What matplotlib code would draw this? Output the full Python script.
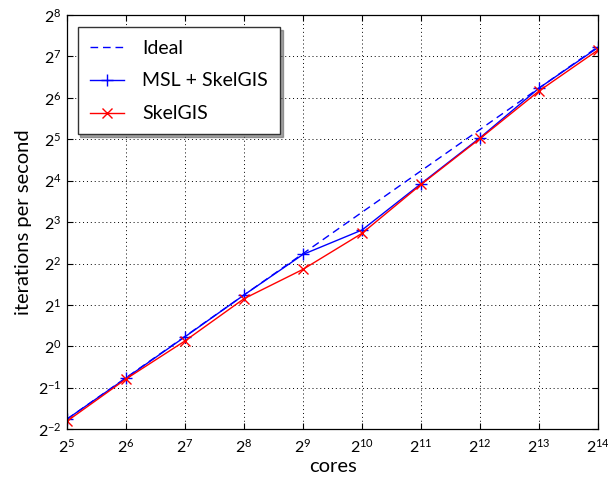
import math
import matplotlib
matplotlib.use("Agg")
import matplotlib.pyplot as plt
from matplotlib.ticker import FixedLocator, FuncFormatter

plt.rcParams['font.family'] = ['Lato', 'DejaVu Sans']
plt.rcParams['mathtext.fontset'] = 'custom'
plt.rcParams['mathtext.rm'] = 'Lato'
plt.rcParams['mathtext.default'] = 'regular'

# data (exponents of 2)
core_exp = [5, 6, 7, 8, 9, 10, 11, 12, 13, 14]
ideal_exp = [-1.76, -0.76, 0.24, 1.24, 2.24, 3.24, 4.24, 5.24, 6.24, 7.24]
msl_exp = [-1.76, -0.77, 0.23, 1.24, 2.22, 2.81, 3.93, 5.04, 6.24, 7.22]
skel_exp = [-1.81, -0.79, 0.13, 1.15, 1.86, 2.73, 3.91, 5.02, 6.17, 7.16]

cores = [2.0 ** e for e in core_exp]
ideal = [2.0 ** e for e in ideal_exp]
msl = [2.0 ** e for e in msl_exp]
skel = [2.0 ** e for e in skel_exp]

x_ticks_exp = list(range(5, 15))
y_ticks_exp = list(range(-2, 9))

fig = plt.figure(figsize=(6.08, 4.86), dpi=100)
ax = fig.add_axes([0.110, 0.117, 0.874, 0.852])

ax.plot(cores, ideal, linestyle=(0, (5.5, 3.5)), color='#0000ff', lw=1.0, label='Ideal')
ax.plot(cores, msl, '-', color='#0000ff', lw=1.0, marker='+', markersize=9,
        markeredgewidth=1.0, label='MSL + SkelGIS')
ax.plot(cores, skel, '-', color='#ff0000', lw=1.0, marker='x', markersize=7,
        markeredgewidth=1.0, label='SkelGIS')

ax.set_xscale('log', base=2)
ax.set_yscale('log', base=2)
ax.set_xlim(2.0 ** 5, 2.0 ** 14)
ax.set_ylim(2.0 ** -2, 2.0 ** 8)

ax.xaxis.set_major_locator(FixedLocator([2.0 ** e for e in x_ticks_exp]))
ax.yaxis.set_major_locator(FixedLocator([2.0 ** e for e in y_ticks_exp]))
ax.xaxis.set_minor_locator(FixedLocator([]))
ax.yaxis.set_minor_locator(FixedLocator([]))
fmt = FuncFormatter(lambda v, p: r'$2^{%d}$' % int(round(math.log2(v))))
ax.xaxis.set_major_formatter(fmt)
ax.yaxis.set_major_formatter(fmt)

ax.tick_params(which='both', direction='in', top=True, right=True, length=4,
               width=0.8, labelsize=11.5, colors='black')
ax.tick_params(axis='x', pad=6)
ax.tick_params(axis='y', pad=4)

ax.grid(True, which='major', linestyle=(0, (1, 3)), color='black', lw=0.7)
for s in ax.spines.values():
    s.set_linewidth(0.9)
    s.set_color('black')

ax.set_xlabel('cores', fontsize=14.5, labelpad=2)
ax.set_ylabel('iterations per second', fontsize=14.5, labelpad=4)

leg = ax.legend(loc='upper left', bbox_to_anchor=(0.02, 0.97), fontsize=14,
                fancybox=False, shadow=True, edgecolor='#333333', framealpha=1,
                handlelength=1.75, handletextpad=0.95, labelspacing=0.82,
                borderpad=0.62, borderaxespad=0.0)
leg.get_frame().set_linewidth(1.0)

fig.savefig('out.png', dpi=100)
